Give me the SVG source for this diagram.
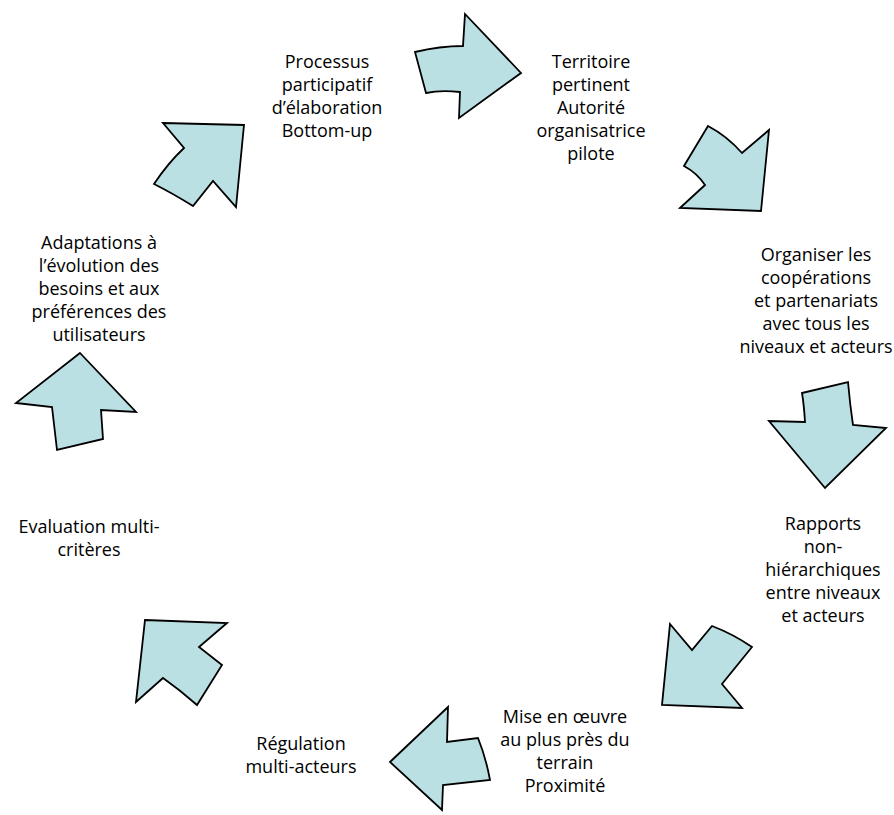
<svg xmlns="http://www.w3.org/2000/svg" width="894" height="815" viewBox="0 0 894 815">
<style>
.arrow{fill:#BBE0E3;stroke:#000;stroke-width:1.8;stroke-linejoin:miter}
.t{font-family:"Open Sans","Liberation Sans",sans-serif;font-size:18px;fill:#000;text-anchor:middle}
</style>
<rect width="894" height="815" fill="#fff"/>
<g id="connectors">
<path class="arrow" d="M415,52 Q440,46 463,46 L465,14 L521,73 L459,118 L460,92 Q440,90 426,93 Z"/>
<path class="arrow" d="M708,126 Q727,136 742,153 L769,130 L761,211 L680,208 L705,185 Q697,173 684,166 Z"/>
<path class="arrow" d="M802,393 L848,382 Q850,405 853,425 L886,428 L825,488 L769,421 L805,422 Q804,405 802,393 Z"/>
<path class="arrow" d="M670,624 L692,650 L712,626 Q733,634 752,647 L722,684 L742,708 L662,705 Z"/>
<path class="arrow" d="M390,762 L448,707 L447,742 L478,738 Q486,758 490,780 L443,785 L442,810 Z"/>
<path class="arrow" d="M145,620 L227,623 L199,647 L222,665 L197,705 Q180,690 163,678 L136,702 Z"/>
<path class="arrow" d="M80,353 L136,412 L101,410 L103,439 L57,450 L52,407 L16,403 Z"/>
<path class="arrow" d="M163,123 L244,125 L236,207 L213,181 L193,206 Q172,193 154,184 Q168,163 184,148 Z"/>
</g>
<g id="node-processus">
<text class="t" x="327" y="68">Processus</text>
<text class="t" x="327" y="91">participatif</text>
<text class="t" x="327" y="114">d’élaboration</text>
<text class="t" x="327" y="137">Bottom-up</text>
</g>
<g id="node-territoire">
<text class="t" x="591" y="68">Territoire</text>
<text class="t" x="591" y="91">pertinent</text>
<text class="t" x="591" y="114">Autorité</text>
<text class="t" x="591" y="137">organisatrice</text>
<text class="t" x="591" y="160">pilote</text>
</g>
<g id="node-organiser">
<text class="t" x="816" y="261">Organiser les</text>
<text class="t" x="816" y="284">coopérations</text>
<text class="t" x="816" y="307">et partenariats</text>
<text class="t" x="816" y="330">avec tous les</text>
<text class="t" x="816" y="353">niveaux et acteurs</text>
</g>
<g id="node-rapports">
<text class="t" x="823" y="530">Rapports</text>
<text class="t" x="823" y="553">non-</text>
<text class="t" x="823" y="576">hiérarchiques</text>
<text class="t" x="823" y="599">entre niveaux</text>
<text class="t" x="823" y="622">et acteurs</text>
</g>
<g id="node-mise">
<text class="t" x="565" y="723">Mise en œuvre</text>
<text class="t" x="565" y="746">au plus près du</text>
<text class="t" x="565" y="769">terrain</text>
<text class="t" x="565" y="792">Proximité</text>
</g>
<g id="node-regulation">
<text class="t" x="301" y="750">Régulation</text>
<text class="t" x="301" y="773">multi-acteurs</text>
</g>
<g id="node-evaluation">
<text class="t" x="89" y="533">Evaluation multi-</text>
<text class="t" x="89" y="556">critères</text>
</g>
<g id="node-adaptations">
<text class="t" x="99" y="249">Adaptations à</text>
<text class="t" x="99" y="272">l’évolution des</text>
<text class="t" x="99" y="295">besoins et aux</text>
<text class="t" x="99" y="318">préférences des</text>
<text class="t" x="99" y="341">utilisateurs</text>
</g>
</svg>
